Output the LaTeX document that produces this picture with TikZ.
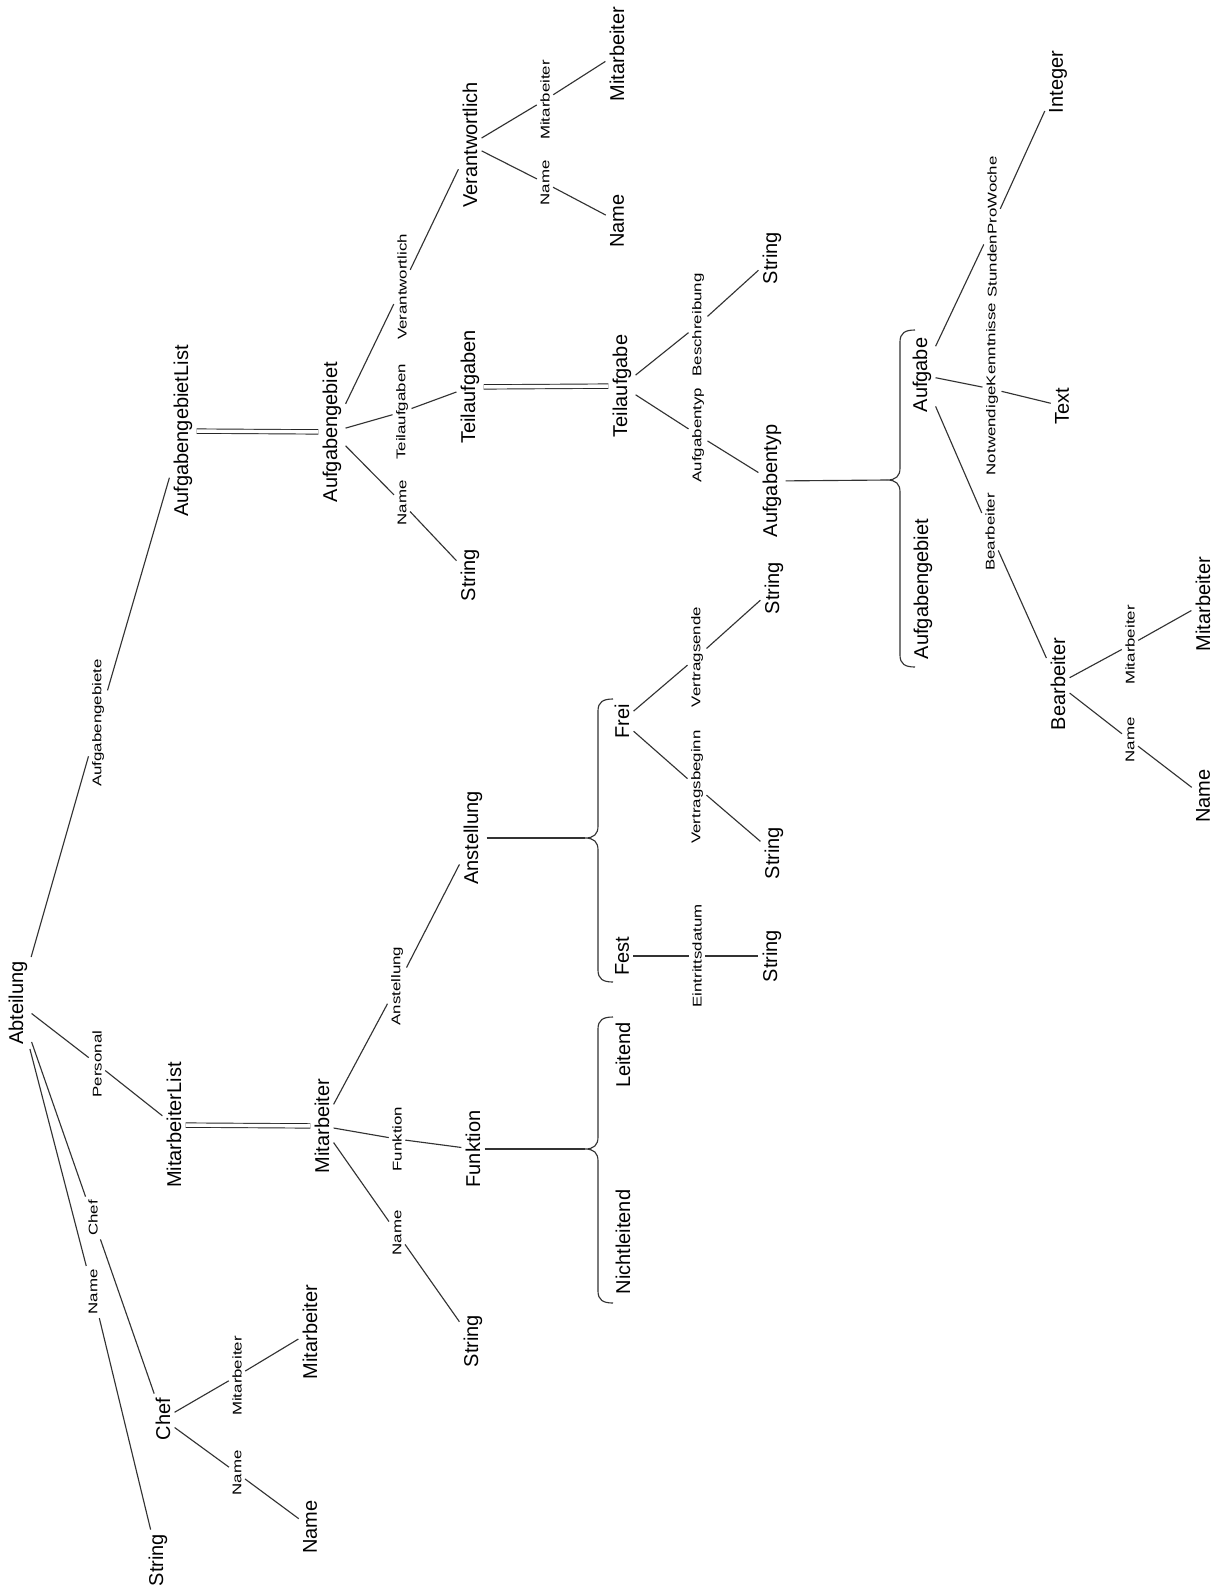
\documentclass[tikz,border=0pt]{standalone}
\usepackage{fontspec}
\newfontfamily\lsans{Liberation Sans}
\newfontfamily\lwide[FakeStretch=1.33]{Liberation Sans}
\newcommand\bigtxt{\lsans\fontsize{15}{18}\selectfont}
\newcommand\smalltxt{\lwide\fontsize{9.5}{11}\selectfont}
\begin{document}
\begin{tikzpicture}[x=0.75pt,y=-0.75pt,
  big/.style={rotate=90,font=\bigtxt,inner sep=3pt},
  lab/.style={rotate=90,font=\smalltxt,inner sep=2.5pt},
  edge/.style={draw=black!80,line width=0.85pt},
  dbl/.style={draw=black!85,double=white,double distance=2.6pt,line width=0.7pt}]
\useasboundingbox[fill=white] (0,0) rectangle (1220,1586);
% ---- big nodes
\node[big] (A)   at (18,1003) {Abteilung};
\node[big] (AGL) at (183,431) {AufgabengebietList};
\node[big] (AG)  at (332,432) {Aufgabengebiet};
\node[big] (S1)  at (470,575) {String};
\node[big] (TA)  at (470,387) {Teilaufgaben};
\node[big] (V)   at (470,145) {Verantwortlich};
\node[big] (VN)  at (617,221) {Name};
\node[big] (VM)  at (617,54) {Mitarbeiter};
\node[big] (T)   at (622,386) {Teilaufgabe};
\node[big] (S2)  at (772,258) {String};
\node[big] (AT)  at (772,481) {Aufgabentyp};
\node[big] (Au)  at (922,375) {Aufgabe};
\node[big] (AG2) at (923,589) {Aufgabengebiet};
\node[big] (Int) at (1058,82) {Integer};
\node[big] (Tx)  at (1062,406) {Text};
\node[big] (B)   at (1058,684) {Bearbeiter};
\node[big] (BM)  at (1203,604) {Mitarbeiter};
\node[big] (BN)  at (1203,796) {Name};
\node[big] (ML)  at (174,1125) {MitarbeiterList};
\node[big] (M)   at (322,1126) {Mitarbeiter};
\node[big] (An)  at (473,838) {Anstellung};
\node[big] (F)   at (473,1149) {Funktion};
\node[big] (S3)  at (473,1341) {String};
\node[big] (Fr)  at (622,721) {Frei};
\node[big] (Fe)  at (622,956) {Fest};
\node[big] (S4)  at (774,588) {String};
\node[big] (S5)  at (774,853) {String};
\node[big] (S6)  at (772,956) {String};
\node[big] (L)   at (623,1055) {Leitend};
\node[big] (NL)  at (623,1242) {Nichtleitend};
\node[big] (C)   at (163,1419) {Chef};
\node[big] (CM)  at (310,1332) {Mitarbeiter};
\node[big] (CN)  at (310,1527) {Name};
\node[big] (S7)  at (158,1560) {String};
% ---- edge labels
\node[lab] (l1)  at (98,723) {Aufgabengebiete};
\node[lab] (l2)  at (97,1064) {Personal};
\node[lab] (l3)  at (93,1218) {Chef};
\node[lab] (l4)  at (93,1292) {Name};
\node[lab] (l5)  at (402,503) {Name};
\node[lab] (l6)  at (402,412) {Teilaufgaben};
\node[lab] (l7)  at (402,287) {Verantwortlich};
\node[lab] (l8)  at (545,183) {Name};
\node[lab] (l9)  at (545,100) {Mitarbeiter};
\node[lab] (l10) at (698,325) {Beschreibung};
\node[lab] (l11) at (698,435) {Aufgabentyp};
\node[lab] (l12) at (992,227) {StundenProWoche};
\node[lab] (l13) at (992,389) {NotwendigeKenntnisse};
\node[lab] (l14) at (990,532) {Bearbeiter};
\node[lab] (l15) at (1130,645) {Mitarbeiter};
\node[lab] (l16) at (1130,740) {Name};
\node[lab] (l17) at (397,986) {Anstellung};
\node[lab] (l18) at (397,1139) {Funktion};
\node[lab] (l19) at (397,1233) {Name};
\node[lab] (l20) at (697,657) {Vertragsende};
\node[lab] (l21) at (697,787) {Vertragsbeginn};
\node[lab] (l22) at (697,956) {Eintrittsdatum};
\node[lab] (l23) at (237,1376) {Mitarbeiter};
\node[lab] (l24) at (237,1473) {Name};
% ---- brace tips
\coordinate (b1) at (585,838);
\coordinate (b2) at (585,1149);
\coordinate (b3) at (887,480);
% ---- connectors
\draw[edge] (A) -- (l1) -- (AGL);
\draw[edge] (A) -- (l2) -- (ML);
\draw[edge] (A) -- (l3) -- (C);
\draw[edge] (A) -- (l4) -- (S7);
\draw[dbl] (AGL) -- (AG);
\draw[edge] (AG) -- (l5) -- (S1);
\draw[edge] (AG) -- (l6) -- (TA);
\draw[edge] (AG) -- (l7) -- (V);
\draw[edge] (V) -- (l8) -- (VN);
\draw[edge] (V) -- (l9) -- (VM);
\draw[dbl] (TA) -- (T);
\draw[edge] (T) -- (l10) -- (S2);
\draw[edge] (T) -- (l11) -- (AT);
\draw[edge] (AT) -- (b3);
\draw[edge] (Au) -- (l12) -- (Int);
\draw[edge] (Au) -- (l13) -- (Tx);
\draw[edge] (Au) -- (l14) -- (B);
\draw[edge] (B) -- (l15) -- (BM);
\draw[edge] (B) -- (l16) -- (BN);
\draw[dbl] (ML) -- (M);
\draw[edge] (M) -- (l17) -- (An);
\draw[edge] (M) -- (l18) -- (F);
\draw[edge] (M) -- (l19) -- (S3);
\draw[edge] (An) -- (b1);
\draw[edge] (F) -- (b2);
\draw[edge] (Fr) -- (l20) -- (S4);
\draw[edge] (Fr) -- (l21) -- (S5);
\draw[edge] (Fe) -- (l22) -- (S6);
\draw[edge] (C) -- (l23) -- (CM);
\draw[edge] (C) -- (l24) -- (CN);
% ---- braces
\draw[edge] (613,699) .. controls (603,699) and (598,702) .. (598,711) -- (598,826)
  .. controls (598,834) and (594,838) .. (b1) .. controls (594,838) and (598,842) .. (598,850)
  -- (598,970) .. controls (598,979) and (603,982) .. (613,982);
\draw[edge] (613,1017) .. controls (603,1017) and (598,1020) .. (598,1029) -- (598,1137)
  .. controls (598,1145) and (594,1149) .. (b2) .. controls (594,1149) and (598,1153) .. (598,1161)
  -- (598,1291) .. controls (598,1300) and (603,1303) .. (613,1303);
\draw[edge] (915,330) .. controls (905,330) and (900,333) .. (900,342) -- (900,468)
  .. controls (900,476) and (896,480) .. (b3) .. controls (896,480) and (900,484) .. (900,492)
  -- (900,655) .. controls (900,664) and (905,667) .. (915,667);
\end{tikzpicture}
\end{document}
